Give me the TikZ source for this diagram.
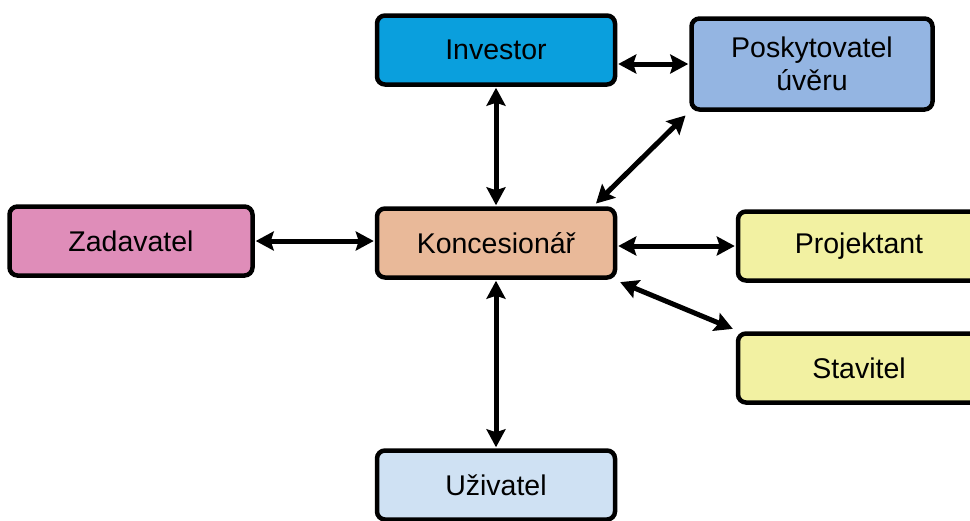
\documentclass[tikz,border=0pt]{standalone}
\usepackage{fontspec}
\setmainfont{Liberation Sans}
\usetikzlibrary{arrows.meta,calc}
\definecolor{cInv}{HTML}{0A9FDD}
\definecolor{cPos}{HTML}{94B5E2}
\definecolor{cZad}{HTML}{DF8DB9}
\definecolor{cKon}{HTML}{E9B999}
\definecolor{cYel}{HTML}{F2F1A2}
\definecolor{cUzi}{HTML}{CFE1F3}
\tikzset{
  box/.style={draw=black, line width=4.5pt, rounded corners=8pt, minimum width=238pt,
    minimum height=69pt, inner sep=0pt, align=center,
    font=\fontsize{28.5}{33}\selectfont},
  tip/.tip={Stealth[length=18pt,width=19pt,inset=3pt]},
  link/.style={line width=5pt, tip-tip, shorten <=1pt, shorten >=1pt}
}
\begin{document}
\begin{tikzpicture}[x=1pt,y=-1pt]
\useasboundingbox (0,0) rectangle (970,520);
\node[box, fill=cInv] (inv) at (496,50) {Investor};
\node[box, fill=cPos, minimum width=241pt, minimum height=91pt] (pos) at (812,64) {Poskytovatel\\úvěru};
\node[box, fill=cZad, minimum width=243pt] (zad) at (131,241) {Zadavatel};
\node[box, fill=cKon] (kon) at (496,243) {Koncesionář};
\node[box, fill=cYel, minimum width=242pt] (pro) at (859,246) {Projektant};
\node[box, fill=cYel, minimum width=242pt] (sta) at (859,368) {Stavitel};
\node[box, fill=cUzi] (uzi) at (496,485) {Uživatel};
\draw[link] (inv.south) -- (kon.north);
\draw[link] (inv.east |- pos.west) -- (pos.west);
\draw[link] ($(pos.south west)+(-3,3)$) -- ($(kon.north east)+(-22,-2)$);
\draw[link] (zad.east) -- (kon.west |- zad.east);
\draw[link] (kon.east |- pro.west) -- (pro.west);
\draw[link] ($(kon.south east)+(2,2)$) -- ($(sta.north west)+(-2,-2)$);
\draw[link] (kon.south) -- (uzi.north);
\end{tikzpicture}
\end{document}
